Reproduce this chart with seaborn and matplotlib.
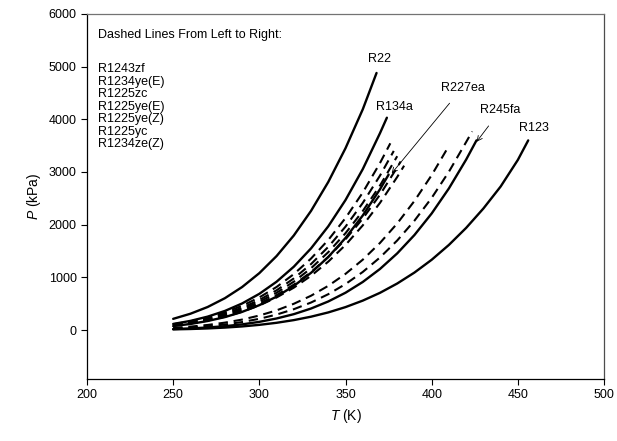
import matplotlib
matplotlib.use("Agg")
import matplotlib.pyplot as plt
import seaborn as sns
import pandas as pd

# saturation curves, T in K, P in kPa
T_R22 = [250, 260, 270, 280, 290, 300, 310, 320, 330, 340, 350, 360, 368]
P_R22 = [212, 309, 437, 604, 816, 1080, 1404, 1795, 2262, 2811, 3452, 4189, 4880]

T_R134a = [250, 260, 270, 280, 290, 300, 310, 320, 330, 340, 350, 360, 370, 374]
P_R134a = [115, 173, 254, 362, 504, 687, 917, 1202, 1550, 1969, 2468, 3054, 3737, 4031]

T_R227ea = [250, 260, 270, 280, 290, 300, 310, 320, 330, 340, 350, 360, 370, 375]
P_R227ea = [75, 115, 171, 245, 344, 472, 634, 837, 1086, 1387, 1748, 2174, 2672, 2950]

T_R245fa = [250, 260, 270, 280, 290, 300, 310, 320, 330, 340, 350, 360, 370, 380, 390, 400, 410, 420, 426]
P_R245fa = [18, 30, 48, 73, 107, 155, 219, 301, 408, 542, 708, 912, 1159, 1455, 1804, 2213, 2689, 3236, 3601]

T_R123 = [250, 260, 270, 280, 290, 300, 310, 320, 330, 340, 350, 360, 370, 380, 390, 400, 410, 420, 430, 440, 450, 456]
P_R123 = [12, 19, 30, 46, 68, 98, 137, 188, 253, 334, 435, 558, 706, 883, 1091, 1334, 1616, 1939, 2307, 2724, 3230, 3600]

# dashed ones
T_R1243zf = [250, 260, 270, 280, 290, 300, 310, 320, 330, 340, 350, 360, 370, 376]
P_R1243zf = [110, 164, 237, 334, 459, 619, 817, 1061, 1357, 1710, 2126, 2610, 3170, 3545]

T_R1234yeE = [250, 260, 270, 280, 290, 300, 310, 320, 330, 340, 350, 360, 370, 378]
P_R1234yeE = [101, 151, 218, 307, 423, 570, 754, 979, 1252, 1578, 1963, 2412, 2931, 3400]

T_R1225zc = [250, 260, 270, 280, 290, 300, 310, 320, 330, 340, 350, 360, 370, 380]
P_R1225zc = [95, 141, 205, 288, 397, 535, 707, 918, 1173, 1478, 1838, 2258, 2743, 3300]

T_R1225yeE = [250, 260, 270, 280, 290, 300, 310, 320, 330, 340, 350, 360, 370, 380, 382]
P_R1225yeE = [89, 133, 192, 271, 373, 502, 663, 861, 1100, 1386, 1722, 2115, 2569, 3088, 3200]

T_R1225yeZ = [250, 260, 270, 280, 290, 300, 310, 320, 330, 340, 350, 360, 370, 380, 384]
P_R1225yeZ = [82, 123, 178, 251, 346, 467, 618, 804, 1029, 1298, 1615, 1986, 2414, 2906, 3120]

T_R1225yc = [250, 260, 270, 280, 290, 300, 310, 320, 330, 340, 350, 360, 370, 380, 390, 400, 409.7]
P_R1225yc = [41, 64, 96, 140, 198, 275, 373, 498, 651, 839, 1066, 1335, 1653, 2023, 2451, 2941, 3480]

T_R1234zeZ = [250, 260, 270, 280, 290, 300, 310, 320, 330, 340, 350, 360, 370, 380, 390, 400, 410, 420, 423.5]
P_R1234zeZ = [30, 47, 71, 105, 151, 213, 293, 395, 522, 680, 872, 1102, 1377, 1700, 2076, 2509, 3006, 3569, 3770]

solid = {"R22": (T_R22, P_R22), "R134a": (T_R134a, P_R134a), "R227ea": (T_R227ea, P_R227ea),
         "R245fa": (T_R245fa, P_R245fa), "R123": (T_R123, P_R123)}
dashed = {"R1243zf": (T_R1243zf, P_R1243zf), "R1234ye(E)": (T_R1234yeE, P_R1234yeE),
          "R1225zc": (T_R1225zc, P_R1225zc), "R1225ye(E)": (T_R1225yeE, P_R1225yeE),
          "R1225ye(Z)": (T_R1225yeZ, P_R1225yeZ), "R1225yc": (T_R1225yc, P_R1225yc),
          "R1234ze(Z)": (T_R1234zeZ, P_R1234zeZ)}

sns.set_style("ticks")
plt.rcParams['font.family'] = ['Liberation Sans', 'DejaVu Sans']
plt.rcParams['mathtext.fontset'] = 'custom'
plt.rcParams['mathtext.rm'] = 'Liberation Sans'
plt.rcParams['mathtext.it'] = 'Liberation Sans:italic'
for key in ['text.color', 'axes.labelcolor', 'xtick.color', 'ytick.color']:
    plt.rcParams[key] = 'black'

fig = plt.figure(figsize=(6.17, 4.41), dpi=100)
ax = fig.add_axes([0.141, 0.1406, 0.838, 0.8277])

for name, (t, p) in solid.items():
    df = pd.DataFrame({"T": t, "P": p})
    sns.lineplot(data=df, x="T", y="P", ax=ax, color="black", lw=1.7, sort=False)

for name, (t, p) in dashed.items():
    df = pd.DataFrame({"T": t, "P": p})
    sns.lineplot(data=df, x="T", y="P", ax=ax, color="black", lw=1.5, sort=False,
                 dashes=False, linestyle=(0, (4.5, 2.8)))

ax.set_xlim(200, 500)
ax.set_ylim(-930, 6000)
ax.set_xticks([200, 250, 300, 350, 400, 450, 500])
ax.set_yticks([0, 1000, 2000, 3000, 4000, 5000, 6000])
ax.tick_params(labelsize=9, length=4, width=0.8, color="black")
ax.set_xlabel(r"$T$ (K)", fontsize=10)
ax.set_ylabel(r"$P$ (kPa)", fontsize=10)
for s in ax.spines.values():
    s.set_linewidth(0.9)
    s.set_color("black")
ax.spines["top"].set_color("0.45")
ax.spines["right"].set_color("0.3")

# in-plot notes
ax.text(0.022, 0.96, "Dashed Lines From Left to Right:", transform=ax.transAxes,
        fontsize=9, va="top")
ax.text(0.022, 0.865, "\n".join(dashed.keys()), transform=ax.transAxes,
        fontsize=9, va="top", linespacing=1.05)

ax.text(369.5, 5150, "R22", fontsize=9, ha="center", va="center")
ax.text(378.5, 4234, "R134a", fontsize=9, ha="center", va="center")
ax.text(459.4, 3835, "R123", fontsize=9, ha="center", va="center")
ax.annotate("R227ea", xy=(376.8, 2975), xytext=(417.9, 4604), fontsize=9,
            ha="center", va="center",
            arrowprops=dict(arrowstyle="->", lw=0.6, color="black", shrinkA=6, shrinkB=0))
ax.annotate("R245fa", xy=(426.1, 3575), xytext=(440, 4177), fontsize=9,
            ha="center", va="center",
            arrowprops=dict(arrowstyle="->", lw=0.6, color="black", shrinkA=6, shrinkB=0))

fig.savefig("out.png", dpi=100)
